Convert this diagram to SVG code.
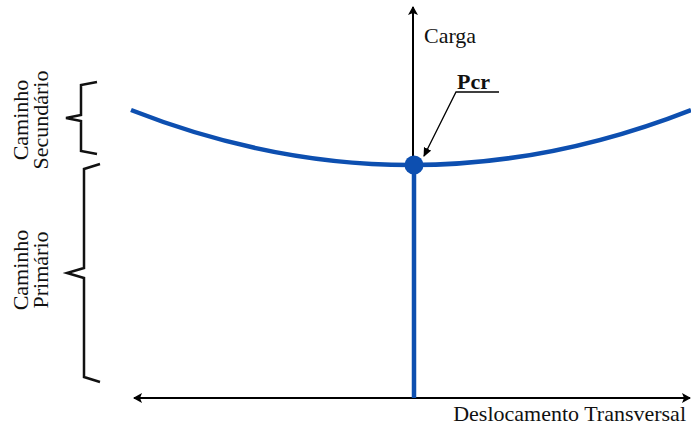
<svg xmlns="http://www.w3.org/2000/svg" width="691" height="427" viewBox="0 0 691 427">
<style>
.t{font-family:"Liberation Serif","Times New Roman",serif;font-size:22px;fill:#111}
.ax{stroke:#000;stroke-width:2;fill:none}
.br{stroke:#111;stroke-width:2.5;fill:none;stroke-linejoin:miter}
.blue{stroke:#0d4fb0;stroke-width:4.5;fill:none}
</style>
<defs>
<marker id="ah" markerWidth="10" markerHeight="10" refX="8" refY="5" orient="auto" markerUnits="userSpaceOnUse">
<path d="M0,0 L9,5 L0,10 L2,5 Z" fill="#000"/>
</marker>
<marker id="ah2" markerWidth="10" markerHeight="10" refX="8" refY="4" orient="auto" markerUnits="userSpaceOnUse">
<path d="M0,0 L9,4 L0,8 Z" fill="#000"/>
</marker>
</defs>
<g id="connectors">
<line class="ax" x1="413" y1="163" x2="413" y2="7" marker-end="url(#ah)"/>
<line class="ax" x1="415" y1="398" x2="134" y2="398" marker-end="url(#ah)"/>
<line class="ax" x1="415" y1="398" x2="690" y2="398" marker-end="url(#ah)"/>
<path d="M499,92 L456,92 L424,156" stroke="#000" stroke-width="1.3" fill="none" marker-end="url(#ah2)"/>
</g>
<g id="curve">
<path class="blue" d="M131,110 Q411,220 691,110"/>
<line class="blue" x1="414" y1="165" x2="414" y2="398"/>
<circle cx="414" cy="165" r="9.5" fill="#0d4fb0"/>
</g>
<g id="carga"><text class="t" x="424" y="43">Carga</text></g>
<g id="pcr"><text class="t" x="457" y="89" style="font-weight:bold">Pcr</text></g>
<g id="deslocamento"><text class="t" x="686" y="421" text-anchor="end">Deslocamento Transversal</text></g>
<g id="secundario">
<path class="br" d="M97,82 L81,85 L81,115 L66,118 L81,121 L81,151 L97,154"/>
<text class="t" transform="translate(28,120) rotate(-90)" text-anchor="middle">Caminho</text>
<text class="t" transform="translate(48,120) rotate(-90)" text-anchor="middle">Secundário</text>
</g>
<g id="primario">
<path class="br" d="M100,164 L84,169 L84,268 L67,273 L84,278 L84,377 L100,382"/>
<text class="t" transform="translate(28,270) rotate(-90)" text-anchor="middle">Caminho</text>
<text class="t" transform="translate(48,270) rotate(-90)" text-anchor="middle">Primário</text>
</g>
</svg>
